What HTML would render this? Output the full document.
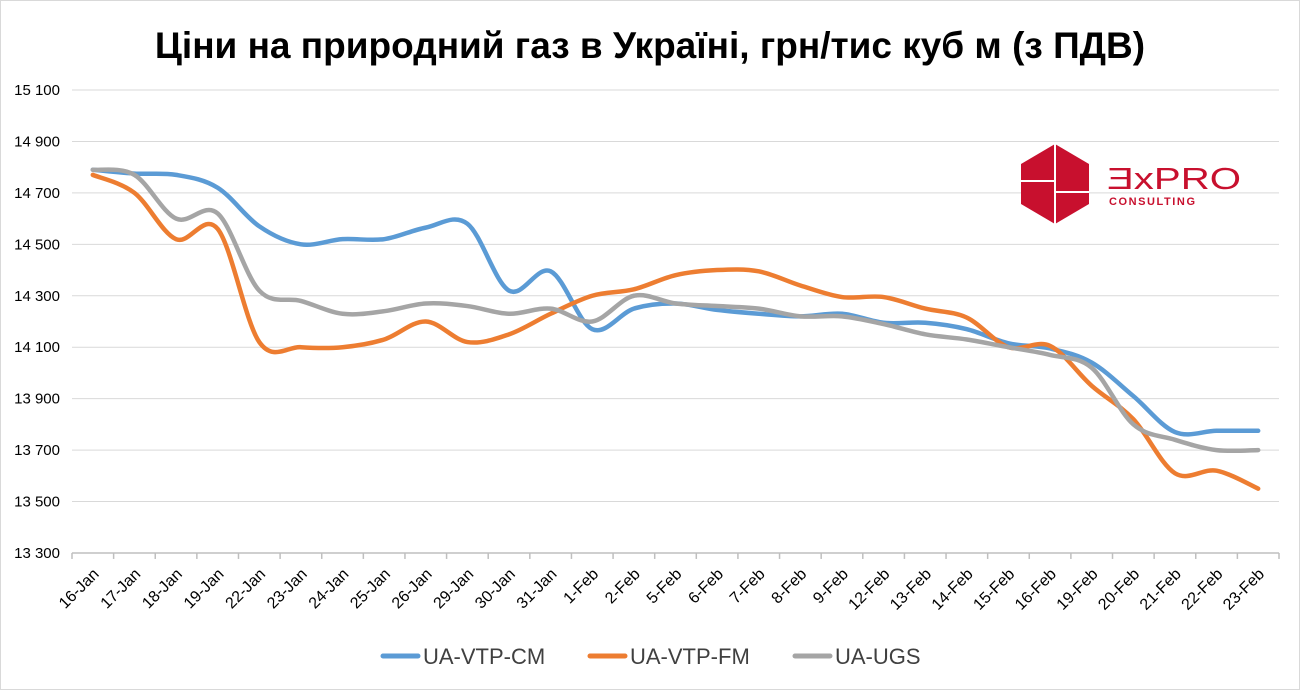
<!DOCTYPE html>
<html><head><meta charset="utf-8"><style>
body{margin:0;background:#fff;}
svg{display:block;font-family:"Liberation Sans",Calibri,sans-serif;}
</style></head><body>
<svg id="s" width="1300" height="690" viewBox="0 0 1300 690">
<rect x="0.5" y="0.5" width="1299" height="689" fill="#fff" stroke="#d9d9d9"/>
<text x="650" y="58" text-anchor="middle" font-size="37" font-weight="bold" fill="#000">Ціни на природний газ в Україні, грн/тис куб м (з ПДВ)</text>
<g id="grid"></g>
<g id="lines" fill="none" stroke-width="4.5" stroke-linejoin="round" stroke-linecap="round"></g>
<g transform="translate(1021,144)">
<polygon points="34,0 68,20 68,60 34,80 0,60 0,20" fill="#c8102e"/>
<line x1="34" y1="0" x2="34" y2="80" stroke="#fff" stroke-width="2"/>
<line x1="0" y1="37" x2="34" y2="37" stroke="#fff" stroke-width="2"/>
<line x1="34" y1="48" x2="68" y2="48" stroke="#fff" stroke-width="2"/>
<text x="86" y="45" font-size="31" fill="#c8102e" textLength="134" lengthAdjust="spacingAndGlyphs">ƎxPRO</text>
<text x="88" y="61" font-size="11" font-weight="bold" fill="#c8102e" textLength="86">CONSULTING</text>
</g>
<g font-size="22" fill="#404040">
<line x1="383" y1="656" x2="418" y2="656" stroke="#5b9bd5" stroke-width="5" stroke-linecap="round"/>
<text x="423" y="664">UA-VTP-CM</text>
<line x1="590" y1="656" x2="625" y2="656" stroke="#ed7d31" stroke-width="5" stroke-linecap="round"/>
<text x="630" y="664">UA-VTP-FM</text>
<line x1="795" y1="656" x2="830" y2="656" stroke="#a5a5a5" stroke-width="5" stroke-linecap="round"/>
<text x="835" y="664">UA-UGS</text>
</g>
</svg>
<script>
const y=v=>90+(15100-v)/200*51.44;
const X0=72,X1=1279,n=29,dx=(X1-X0)/n;
const cx=i=>X0+dx/2+i*dx;
const labels=["16-Jan","17-Jan","18-Jan","19-Jan","22-Jan","23-Jan","24-Jan","25-Jan","26-Jan","29-Jan","30-Jan","31-Jan","1-Feb","2-Feb","5-Feb","6-Feb","7-Feb","8-Feb","9-Feb","12-Feb","13-Feb","14-Feb","15-Feb","16-Feb","19-Feb","20-Feb","21-Feb","22-Feb","23-Feb"];
let g="";
for(let v=13300;v<=15100;v+=200){
 const yy=y(v);
 if(v>13300)g+=`<line x1="${X0}" y1="${yy}" x2="${X1}" y2="${yy}" stroke="#d9d9d9" stroke-width="1"/>`;
 g+=`<text x="60" y="${yy+5}" text-anchor="end" font-size="15" fill="#000">${String(v).replace(/(\d\d)(\d{3})/,"$1 $2")}</text>`;
}
const yb=y(13300);
g+=`<line x1="${X0}" y1="${yb}" x2="${X1}" y2="${yb}" stroke="#bfbfbf" stroke-width="1.5"/>`;
for(let i=0;i<=n;i++){const xx=X0+i*dx;g+=`<line x1="${xx}" y1="${yb}" x2="${xx}" y2="${yb+6}" stroke="#bfbfbf" stroke-width="1.5"/>`;}
labels.forEach((l,i)=>{const xx=cx(i)+7,yy=yb+22;g+=`<text transform="translate(${xx},${yy}) rotate(-45)" text-anchor="end" font-size="16" fill="#000">${l}</text>`;});
document.getElementById("grid").innerHTML=g;
const data={
"#5b9bd5":[14790,14775,14770,14720,14570,14500,14520,14520,14565,14580,14320,14395,14170,14250,14270,14245,14230,14220,14230,14195,14195,14170,14115,14095,14040,13910,13770,13775,13775],
"#a5a5a5":[14790,14770,14600,14620,14320,14280,14230,14240,14270,14260,14230,14250,14200,14300,14270,14260,14250,14220,14220,14190,14150,14130,14100,14070,14020,13800,13740,13700,13700],
"#ed7d31":[14770,14700,14520,14560,14120,14100,14100,14130,14200,14120,14150,14230,14300,14325,14380,14400,14395,14340,14295,14295,14250,14215,14100,14105,13950,13820,13610,13620,13550]
};
const paths={};
for(const c in data){
 const p=data[c].map((v,i)=>[cx(i),y(v)]);
 let d=`M${p[0][0]},${p[0][1]}`;
 for(let i=0;i<p.length-1;i++){
  const p0=p[Math.max(i-1,0)],p1=p[i],p2=p[i+1],p3=p[Math.min(i+2,p.length-1)];
  const t=0.5/3;
  d+=` C${p1[0]+(p2[0]-p0[0])*t},${p1[1]+(p2[1]-p0[1])*t} ${p2[0]-(p3[0]-p1[0])*t},${p2[1]-(p3[1]-p1[1])*t} ${p2[0]},${p2[1]}`;
 }
 paths[c]=`<path d="${d}" stroke="${c}"/>`;
}
document.getElementById("lines").innerHTML=paths["#5b9bd5"]+paths["#ed7d31"]+paths["#a5a5a5"];
</script>
</body></html>
